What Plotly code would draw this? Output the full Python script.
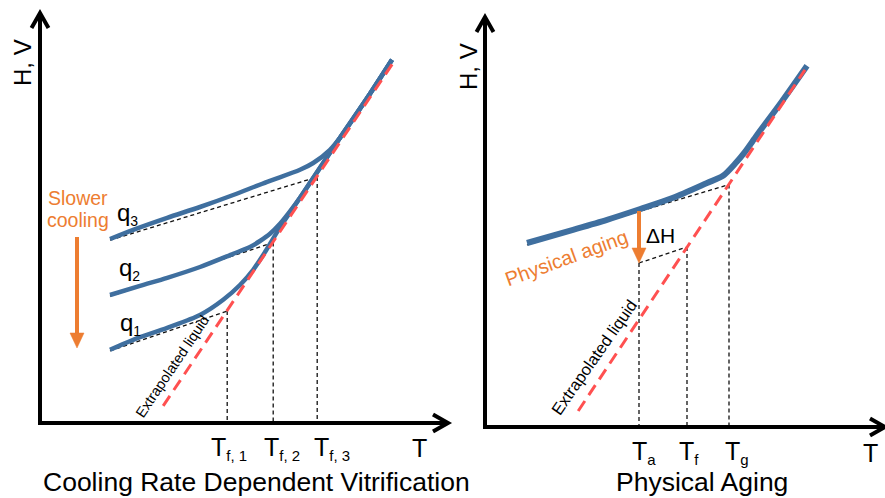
import plotly.graph_objects as go

W, H = 885, 498
FONT = "Liberation Sans, Arial, sans-serif"
BLUE = "#3F6F9F"
RED = "#FF5050"
ORANGE = "#ED7D31"
BLACK = "#111111"

# ---------------- Left panel: cooling-rate dependent vitrification ----------------
liq_T_L = [3.08, 8.88]
liq_H_L = [0.43, 9.08]

q3_T = [1.75, 2.33, 3.18, 4.00, 4.83, 5.68, 6.50, 6.83, 7.25, 7.50, 7.68, 8.25, 8.80]
q3_H = [4.60, 4.83, 5.13, 5.40, 5.70, 6.03, 6.33, 6.50, 6.83, 7.13, 7.38, 8.23, 9.08]
q2_T = [1.75, 2.50, 3.18, 4.00, 4.83, 5.25, 5.50, 5.75, 6.00, 6.25, 6.50, 7.50, 8.25, 8.80]
q2_H = [3.20, 3.43, 3.63, 3.90, 4.23, 4.40, 4.55, 4.73, 4.98, 5.29, 5.63, 7.13, 8.23, 9.08]
q1_T = [1.75, 2.33, 3.18, 4.00, 4.58, 5.00, 5.33, 5.63, 6.00, 6.50, 7.50, 8.25, 8.80]
q1_H = [1.83, 2.08, 2.38, 2.70, 3.08, 3.45, 3.83, 4.28, 4.89, 5.63, 7.13, 8.23, 9.08]

glass_start_T_L = [1.75, 1.75, 1.75]
glass_start_H_L = [1.80, 3.17, 4.57]
Tf_L = [4.68, 5.83, 6.93]           # fictive temperatures T_f,1..3
Hf_L = [2.80, 4.51, 6.15]           # liquid enthalpy at each T_f
Tf_subs_L = ["f, 1", "f, 2", "f, 3"]
Tf_label_left_L = [4.23, 5.55, 6.80]
q_subs = ["1", "2", "3"]
q_label_T = [2.25, 2.23, 2.18]
q_label_H = [2.48, 3.85, 5.23]
cool_arrow_T = 0.925
cool_arrow_H = [4.65, 1.875]        # tail, tip

# ---------------- Right panel: physical aging ----------------
liq_T_R = [2.33, 8.00]
liq_H_R = [0.40, 8.93]
blue_T_R = [1.05, 2.20, 3.05, 3.88, 4.70, 5.55, 5.95, 6.25, 6.50, 6.80, 7.43, 8.05]
blue_H_R = [4.60, 4.93, 5.18, 5.45, 5.73, 6.10, 6.28, 6.58, 6.88, 7.30, 8.15, 9.03]
glass_T_R = [1.05, 6.10]
glass_H_R = [4.55, 6.06]
aged_T_R = [3.85, 5.05]
aged_H_R = [4.10, 4.50]
Tmark_R = [3.85, 5.05, 6.10]        # T_a, T_f, T_g
Hmark_R = [4.10, 4.50, 6.06]
Tmark_subs_R = ["a", "f", "g"]
Tmark_label_left_R = [3.625, 4.80, 5.95]
dH_arrow_H = [5.40, 4.10]           # tail, tip

# ---------------- layout geometry (pixels) ----------------
def dom_x(a, b):
    return [a / W, b / W]

def dom_y(top, bottom):
    return [1 - bottom / H, 1 - top / H]

AX = {
    "x": dict(domain=dom_x(42, 448), range=[0.05, 10.2]),
    "y": dict(domain=dom_y(13, 421), range=[0.05, 10.25]),
    "x2": dict(domain=dom_x(487, 885), range=[0.05, 10.0]),
    "y2": dict(domain=dom_y(17, 425), range=[0.05, 10.25]),
}

def to_paper(axid, v):
    d, r = AX[axid]["domain"], AX[axid]["range"]
    return d[0] + (v - r[0]) / (r[1] - r[0]) * (d[1] - d[0])

def sub(main, s, size):
    return f"{main}<sub><span style='font-size:{size}px'>{s}</span></sub>"

fig = go.Figure()

def dline(T, Hh, xa, ya, color=BLACK, width=1.3, dash="4px,3px"):
    fig.add_trace(go.Scatter(x=T, y=Hh, xaxis=xa, yaxis=ya, mode="lines",
                             line=dict(color=color, width=width, dash=dash),
                             hoverinfo="skip", showlegend=False))

# left dashed helpers
for i in range(3):
    dline([glass_start_T_L[i], Tf_L[i]], [glass_start_H_L[i], Hf_L[i]], "x", "y")
    dline([Tf_L[i], Tf_L[i]], [Hf_L[i], 0.05], "x", "y")
# left blue curves
for T, Hh in [(q1_T, q1_H), (q2_T, q2_H), (q3_T, q3_H)]:
    fig.add_trace(go.Scatter(x=T, y=Hh, mode="lines",
                             line=dict(color=BLUE, width=4.5, shape="spline", smoothing=0.8),
                             hoverinfo="skip", showlegend=False))
# left liquid
dline(liq_T_L, liq_H_L, "x", "y", color=RED, width=3, dash="12px,7px")

# right dashed helpers
dline(glass_T_R, glass_H_R, "x2", "y2")
dline(aged_T_R, aged_H_R, "x2", "y2")
for i in range(3):
    dline([Tmark_R[i], Tmark_R[i]], [Hmark_R[i], 0.05], "x2", "y2")
fig.add_trace(go.Scatter(x=blue_T_R, y=blue_H_R, xaxis="x2", yaxis="y2", mode="lines",
                         line=dict(color=BLUE, width=6, shape="spline", smoothing=0.8),
                         hoverinfo="skip", showlegend=False))
dline(liq_T_R, liq_H_R, "x2", "y2", color=RED, width=3, dash="12px,7px")

ann = []
shapes = []

def text(x, y, t, xa, ya, size, color="black", angle=0, xanchor="center", yanchor="middle"):
    ann.append(dict(x=to_paper(xa, x), y=to_paper(ya, y), xref="paper", yref="paper",
                    text=t, showarrow=False, textangle=angle,
                    xanchor=xanchor, yanchor=yanchor,
                    font=dict(family=FONT, size=size, color=color)))

def pt(px, py):
    return f"{px:.5f},{py:.5f}"

def chevron(xa, ya, T, Hh, arms):
    # arms: pixel offsets (dx right, dy down) from the tip
    x0, y0 = to_paper(xa, T), to_paper(ya, Hh)
    (a1x, a1y), (a2x, a2y) = arms
    path = ("M" + pt(x0 + a1x / W, y0 - a1y / H) + " L" + pt(x0, y0) +
            " L" + pt(x0 + a2x / W, y0 - a2y / H))
    shapes.append(dict(type="path", xref="paper", yref="paper", path=path,
                       line=dict(color="black", width=4)))

def down_arrow(xa, ya, T, H_tail, H_tip, color, shaft=4, head_len=15, head_half=7):
    x0 = to_paper(xa, T)
    yt, yh = to_paper(ya, H_tail), to_paper(ya, H_tip)
    base = yh + head_len / H
    shapes.append(dict(type="line", xref="paper", yref="paper", x0=x0, x1=x0,
                       y0=yt, y1=base - 1 / H, line=dict(color=color, width=shaft)))
    path = ("M" + pt(x0 - head_half / W, base) + " L" + pt(x0 + head_half / W, base) +
            " L" + pt(x0, yh) + " Z")
    shapes.append(dict(type="path", xref="paper", yref="paper", path=path,
                       fillcolor=color, line=dict(color=color, width=0.5)))

# axis arrow chevrons (tip at end of each axis line)
for xa, ya, xtip in [("x", "y", 10.2), ("x2", "y2", 10.0)]:
    chevron(xa, ya, 0, 10.25, [(-8.5, 15), (8.5, 15)])
    chevron(xa, ya, xtip, 0, [(-15, -8.5), (-15, 8.5)])

# left texts
text(-0.45, 9.0, "H, V", "x", "y", 24, angle=-90)
for s, xl in zip(Tf_subs_L, Tf_label_left_L):
    text(xl, -0.625, sub("T", s, 15), "x", "y", 25, xanchor="left")
text(9.5, -0.625, "T", "x", "y", 25)
text(5.4, -1.48, "Cooling Rate Dependent Vitrification", "x", "y", 26.5)
for s, x, y in zip(q_subs, q_label_T, q_label_H):
    text(x, y, sub("q", s, 14), "x", "y", 24)
text(0.95, 5.625, "Slower", "x", "y", 19.5, color=ORANGE)
text(0.95, 5.075, "cooling", "x", "y", 19.5, color=ORANGE)
text(3.3, 1.4, "Extrapolated liquid", "x", "y", 14.5, angle=-56)
down_arrow("x", "y", cool_arrow_T, cool_arrow_H[0], cool_arrow_H[1], ORANGE)

# right texts
text(-0.425, 9.0, "H, V", "x2", "y2", 24, angle=-90)
for s, xl in zip(Tmark_subs_R, Tmark_label_left_R):
    text(xl, -0.64, sub("T", s, 15), "x2", "y2", 25, xanchor="left")
text(9.625, -0.64, "T", "x2", "y2", 25)
text(5.425, -1.38, "Physical Aging", "x2", "y2", 26.5)
text(4.375, 4.8, "ΔH", "x2", "y2", 21)
text(2.025, 4.225, "Physical aging", "x2", "y2", 20, color=ORANGE, angle=-20)
text(2.725, 1.75, "Extrapolated liquid", "x2", "y2", 16.5, angle=-55)
down_arrow("x2", "y2", Tmark_R[0], dH_arrow_H[0], dH_arrow_H[1], ORANGE)

ax_common = dict(showline=True, linewidth=4, linecolor="black", showgrid=False,
                 zeroline=False, showticklabels=False, ticks="", fixedrange=True)

fig.update_layout(
    width=W, height=H, margin=dict(l=0, r=0, t=0, b=0),
    paper_bgcolor="white", plot_bgcolor="white", showlegend=False,
    xaxis=dict(anchor="y", **AX["x"], **ax_common),
    yaxis=dict(anchor="x", **AX["y"], **ax_common),
    xaxis2=dict(anchor="y2", **AX["x2"], **ax_common),
    yaxis2=dict(anchor="x2", **AX["y2"], **ax_common),
    annotations=ann,
    shapes=shapes,
)

fig.write_html("out.html")
